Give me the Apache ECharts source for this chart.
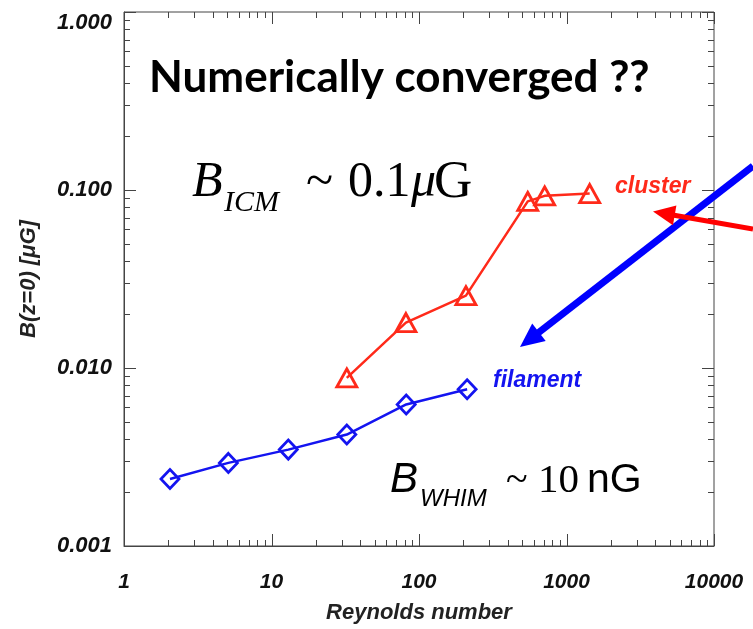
<!DOCTYPE html>
<html>
<head>
<meta charset="utf-8">
<script src="https://cdn.jsdelivr.net/npm/echarts@6/dist/echarts.min.js"></script>
<style>html,body{margin:0;padding:0;background:#fff;}#c{width:753px;height:629px;}</style>
</head>
<body>
<div id="c"></div>
<script>
// ---- data ----
const xTickValues = [1, 10, 100, 1000, 10000];
const yTickValues = [0.001, 0.01, 0.1, 1];
const clusterRe = [32.4, 81.5, 208, 546, 711, 1436];
const clusterB = [0.0088, 0.0180, 0.0255, 0.0863, 0.0927, 0.0955];
const filamentRe = [2.05, 5.1, 13.0, 32.4, 81.9, 212];
const filamentB = [0.00238, 0.00293, 0.00348, 0.00423, 0.00624, 0.00759];
const minorMultipliers = [2, 3, 4, 5, 6, 7, 8, 9];

const RED = '#ff2a1a';
const BLUE = '#1414f0';
const AXISC = '#444';
const labelFont = {fontFamily: '"Liberation Sans", Arial, sans-serif', fontWeight: 'bold', fontStyle: 'italic'};

function zip(a, b) { return a.map((v, i) => [v, b[i]]); }

const chart = echarts.init(document.getElementById('c'), null, {renderer: 'canvas'});

function tickRender(params, api) {
  const cs = params.coordSys;
  const left = cs.x, top = cs.y, right = cs.x + cs.width, bottom = cs.y + cs.height;
  const children = [];
  const st = {stroke: AXISC, lineWidth: 1};
  const MAJ = 12, MIN = 6;
  for (let i = 0; i < xTickValues.length; i++) {
    const dec = xTickValues[i];
    const ticks = [[dec, MAJ]];
    if (i < xTickValues.length - 1) minorMultipliers.forEach(m => ticks.push([dec * m, MIN]));
    ticks.forEach(t => {
      const x = Math.round(api.coord([t[0], yTickValues[0]])[0]) + 0.5;
      children.push({type: 'line', shape: {x1: x, y1: bottom, x2: x, y2: bottom - t[1]}, style: st});
      children.push({type: 'line', shape: {x1: x, y1: top, x2: x, y2: top + t[1]}, style: st});
    });
  }
  for (let i = 0; i < yTickValues.length; i++) {
    const dec = yTickValues[i];
    const ticks = [[dec, MAJ]];
    if (i < yTickValues.length - 1) minorMultipliers.forEach(m => ticks.push([dec * m, MIN]));
    ticks.forEach(t => {
      const y = Math.round(api.coord([xTickValues[0], t[0]])[1]) + 0.5;
      children.push({type: 'line', shape: {x1: left, y1: y, x2: left + t[1], y2: y}, style: st});
      children.push({type: 'line', shape: {x1: right, y1: y, x2: right - t[1], y2: y}, style: st});
    });
  }
  return {type: 'group', children: children};
}

function arrow(tail, tip, width, headLen, headHalf, color) {
  const dx = tip[0] - tail[0], dy = tip[1] - tail[1];
  const L = Math.sqrt(dx * dx + dy * dy);
  const ux = dx / L, uy = dy / L, nx = -uy, ny = ux;
  const bx = tip[0] - ux * headLen, by = tip[1] - uy * headLen;
  return [
    {type: 'line', z: 100, shape: {x1: tail[0], y1: tail[1], x2: bx + ux * 2, y2: by + uy * 2}, style: {stroke: color, lineWidth: width}},
    {type: 'polygon', z: 100, shape: {points: [[tip[0], tip[1]], [bx + nx * headHalf, by + ny * headHalf], [bx - nx * headHalf, by - ny * headHalf]]}, style: {fill: color}}
  ];
}

function txt(text, x, y, font, color) {
  return {type: 'text', z: 100, x: x, y: y, style: {text: text, font: font, fill: color || '#000', align: 'left', verticalAlign: 'middle'}};
}

const serif = '"Liberation Serif", "Times New Roman", serif';
const sans = '"Liberation Sans", Arial, sans-serif';

const graphics = [].concat(
  arrow([753, 166], [520, 347], 7, 24, 11, '#0000ff'),
  arrow([753, 229], [653, 211.5], 5, 22, 10, '#ff0000'),
  [
    txt('Numerically converged ??', 149, 78, 'bold 44px Lato, "Open Sans", sans-serif', '#000'),
    txt('B', 192, 183, 'italic 50px ' + serif),
    txt('ICM', 224, 203, 'italic 30px ' + serif),
    txt('~', 306, 183, '50px ' + serif),
    txt('0.1', 348, 183, '50px ' + serif),
    txt('\u03bc', 411, 183, 'italic 50px ' + serif),
    txt('G', 434, 183, '53px ' + serif),
    txt('B', 390, 480, 'italic 42px ' + sans),
    txt('WHIM', 420, 499, 'italic 24px ' + sans),
    txt('~', 506, 481, '40px ' + serif),
    txt('10', 538, 481, '41px ' + serif),
    txt('nG', 587, 481, '41px ' + sans),
    txt('cluster', 615, 187, 'bold italic 23px ' + sans, RED),
    txt('filament', 493, 381, 'bold italic 23px ' + sans, BLUE)
  ]
);

const option = {
  animation: false,
  backgroundColor: '#fff',
  grid: {left: 124, right: 39, top: 12, bottom: 83, show: true, borderColor: AXISC, borderWidth: 1, containLabel: false},
  xAxis: {
    type: 'log', logBase: 10, min: 1, max: 10000,
    axisLine: {show: true, lineStyle: {color: AXISC}},
    axisTick: {show: false}, splitLine: {show: false},
    axisLabel: Object.assign({fontSize: 21, color: '#111', margin: 26, formatter: v => String(Math.round(v))}, labelFont),
    name: 'Reynolds number', nameLocation: 'middle', nameGap: 56,
    nameTextStyle: Object.assign({fontSize: 22, color: '#222'}, labelFont)
  },
  yAxis: {
    type: 'log', logBase: 10, min: 0.001, max: 1,
    axisLine: {show: true, lineStyle: {color: AXISC}},
    axisTick: {show: false}, splitLine: {show: false},
    axisLabel: Object.assign({
      fontSize: 22, color: '#111', margin: 12,
      formatter: v => (Math.abs(v - 1) < 1e-9 ? '{t|' + Number(v).toFixed(3) + '}' : Number(v).toFixed(3)),
      rich: {t: Object.assign({fontSize: 22, color: '#111', padding: [22, 0, 0, 0]}, labelFont)}
    }, labelFont),
    name: 'B(z=0) [\u03bcG]', nameLocation: 'middle', nameGap: 84, nameRotate: 90,
    nameTextStyle: Object.assign({fontSize: 22, color: '#222'}, labelFont)
  },
  graphic: graphics,
  series: [
    {
      name: 'cluster', type: 'line', data: zip(clusterRe, clusterB),
      symbol: 'triangle', symbolSize: [20, 18], showSymbol: true,
      lineStyle: {color: RED, width: 2.5},
      itemStyle: {color: 'rgba(255,255,255,0)', borderColor: RED, borderWidth: 2.8},
      z: 3
    },
    {
      name: 'filament', type: 'line', data: zip(filamentRe, filamentB),
      symbol: 'diamond', symbolSize: [18, 19], showSymbol: true,
      lineStyle: {color: BLUE, width: 2.5},
      itemStyle: {color: 'rgba(255,255,255,0)', borderColor: BLUE, borderWidth: 2.8},
      z: 3
    },
    {
      name: 'ticks', type: 'custom', data: [[xTickValues[0], yTickValues[0]]],
      renderItem: tickRender, silent: true, clip: false, z: 5
    }
  ]
};
chart.setOption(option);
</script>
</body>
</html>
